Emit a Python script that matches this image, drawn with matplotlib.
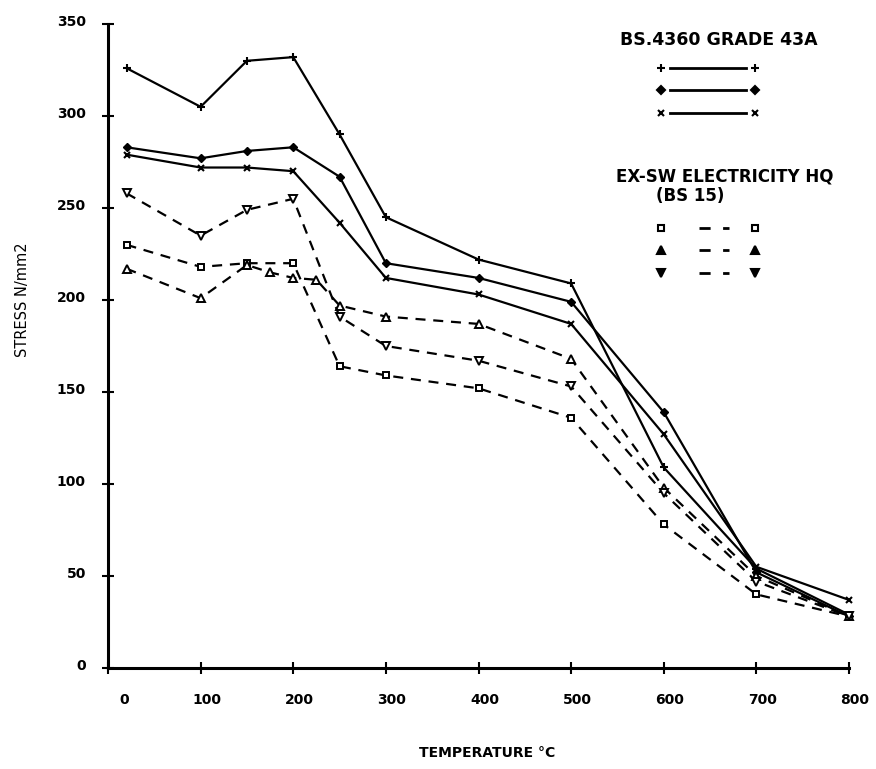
import matplotlib
matplotlib.use("Agg")
import matplotlib.pyplot as plt
import matplotlib.transforms as mtransforms

# Temperatures (deg C) - the first reading is at room temperature
temps = [20, 100, 150, 200, 250, 300, 400, 500, 600, 700, 800]
# the up-triangle series has two extra readings at 175 and 225
temps_tri = [20, 100, 150, 175, 200, 225, 250, 300, 400, 500, 600, 700, 800]

# BS.4360 GRADE 43A (solid lines)
bs4360_plus = [326, 305, 330, 332, 290, 245, 222, 209, 109, 54, 29]
bs4360_diamond = [283, 277, 281, 283, 267, 220, 212, 199, 139, 52, 28]
bs4360_cross = [279, 272, 272, 270, 242, 212, 203, 187, 127, 55, 37]

# EX-SW ELECTRICITY HQ (BS 15) (dashed lines)
bs15_square = [230, 218, 220, 220, 164, 159, 152, 136, 78, 40, 28]
bs15_up = [217, 201, 219, 215, 212, 211, 197, 191, 187, 168, 98, 50, 28]
bs15_down = [258, 235, 249, 255, 191, 175, 167, 153, 95, 47, 28]

x_ticks = [0, 100, 200, 300, 400, 500, 600, 700, 800]
y_ticks = [0, 50, 100, 150, 200, 250, 300, 350]

W, H = 876, 769
fig = plt.figure(figsize=(W / 100, H / 100), dpi=100)
fig.patch.set_facecolor("white")

# axes box taken from pixel positions of the original plot
ax = fig.add_axes([108 / W, 1 - 668 / H, 741 / W, 644 / H])
ax.set_xlim(0, 800)
ax.set_ylim(0, 350)

lw = 1.6
solid = dict(color="black", lw=lw, clip_on=False)
dashed = dict(color="black", lw=lw, ls=(0, (4.5, 3.5)), clip_on=False)

ax.plot(temps, bs4360_plus, marker="+", ms=6, mew=1.5, **solid)
ax.plot(temps, bs4360_diamond, marker="D", ms=4, mfc="black", **solid)
ax.plot(temps, bs4360_cross, marker="x", ms=5, mew=1.5, **solid)

ax.plot(temps, bs15_square, marker="s", ms=5, mfc="white", mew=1.4, **dashed)
ax.plot(temps_tri, bs15_up, marker="^", ms=5.5, mfc="white", mew=1.4, **dashed)
ax.plot(temps, bs15_down, marker="v", ms=5.5, mfc="white", mew=1.4, **dashed)

# axes styling - plotter look
for s in ["top", "right"]:
    ax.spines[s].set_visible(False)
for s in ["left", "bottom"]:
    ax.spines[s].set_linewidth(2.2)

ax.set_xticks(x_ticks)
ax.set_yticks(y_ticks)
ax.tick_params(direction="inout", length=8, width=1.5)
ax.tick_params(axis="x", pad=14)
ax.tick_params(axis="y", pad=12)
for lab in ax.get_xticklabels() + ax.get_yticklabels():
    lab.set_fontsize(10)
    lab.set_fontweight("bold")

# labels sit a little off the ticks in the original
xoff = mtransforms.ScaledTranslation(6 / 100, 0, fig.dpi_scale_trans)
for i, lab in enumerate(ax.get_xticklabels()):
    if i == 0:
        lab.set_transform(lab.get_transform() + mtransforms.ScaledTranslation(16 / 100, 0, fig.dpi_scale_trans))
    else:
        lab.set_transform(lab.get_transform() + xoff)
yoff = mtransforms.ScaledTranslation(0, 4 / 100, fig.dpi_scale_trans)
for lab in ax.get_yticklabels():
    lab.set_transform(lab.get_transform() + yoff)

fig.text(23 / W, 1 - 300 / H, "STRESS N/mm2", rotation=90, ha="center", va="center", fontsize=10.5)
fig.text(487 / W, 1 - 753 / H, "TEMPERATURE °C", ha="center", va="center", fontsize=10, fontweight="bold")


# legend, drawn by hand in figure pixel coordinates
def fx(px):
    return px / W


def fy(py):
    return 1 - py / H


fig.text(fx(620), fy(40), "BS.4360 GRADE 43A", ha="left", va="center", fontsize=12.5, fontweight="bold")
fig.text(fx(616), fy(176), "EX-SW ELECTRICITY HQ", ha="left", va="center", fontsize=12, fontweight="bold")
fig.text(fx(656), fy(196), "(BS 15)", ha="left", va="center", fontsize=12, fontweight="bold")

solid_keys = [("+", 6, "black", 68), ("D", 4, "black", 90), ("x", 5, "black", 113)]
for m, ms, fc, py in solid_keys:
    ax.plot([fx(670), fx(746)], [fy(py), fy(py)], transform=fig.transFigure, color="black", lw=2, clip_on=False)
    ax.plot([fx(661), fx(755)], [fy(py), fy(py)], transform=fig.transFigure, ls="none",
            marker=m, ms=ms, mfc=fc, mec="black", mew=1.5, clip_on=False)

dash_keys = [("s", 5, "white", 228), ("^", 5.5, "black", 250), ("v", 5.5, "black", 273)]
for m, ms, fc, py in dash_keys:
    ax.plot([fx(699), fx(729)], [fy(py), fy(py)], transform=fig.transFigure, color="black", lw=2,
            ls=(0, (4, 4.5)), clip_on=False)
    ax.plot([fx(661), fx(755)], [fy(py), fy(py)], transform=fig.transFigure, ls="none",
            marker=m, ms=ms, mfc=fc, mec="black", mew=1.5, clip_on=False)

fig.savefig("out.png", dpi=100)
